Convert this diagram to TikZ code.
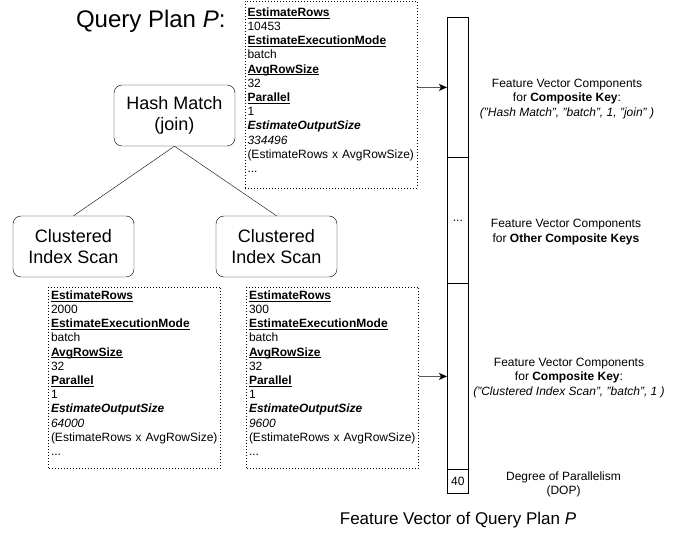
\documentclass[tikz,border=0pt]{standalone}
\usepackage{fontspec}
\setmainfont{Liberation Sans}
\usetikzlibrary{arrows.meta}
\newcommand{\fieldname}[1]{\underline{\smash{\textbf{#1}}}}

\begin{document}
\begin{tikzpicture}[x=1pt,y=-1pt,
	opnode/.style={draw,rounded corners=8pt,minimum width=121pt,minimum height=61pt,align=center,font=\fontsize{18}{21.6}\selectfont},
	infobox/.style={draw,dash pattern=on 1pt off 2pt,line width=0.8pt,text width=167pt,inner xsep=2.5pt,minimum height=#1,align=left,font=\fontsize{12}{14.2}\selectfont},
	cell/.style={draw,line width=0.8pt,minimum width=21pt,inner sep=0pt,anchor=north west,font=\fontsize{12}{14}\selectfont},
	note/.style={align=center,font=\fontsize{12}{14.2}\selectfont},
	feed/.style={draw=black!65,line width=1.2pt,-{Stealth[color=black,length=8pt,width=7pt,inset=2pt]}}]
	\useasboundingbox (0,0) rectangle (683,534);

	\node[anchor=east,font=\fontsize{24}{28}\selectfont] (title) at (229,21) {Query Plan \textit{P}:};

	% operator tree
	\node[opnode] (hash) at (174.5,115.5) {Hash Match\\(join)};
	\node[opnode] (scanl) at (73.5,246.5) {Clustered\\Index Scan};
	\node[opnode] (scanr) at (276.5,246.5) {Clustered\\Index Scan};
	\draw (hash.south) -- (scanl.north);
	\draw (hash.south) -- (scanr.north);

	% operator properties
	\node[infobox=187pt] (hashinfo) at (331,94.5) {\fieldname{EstimateRows}\\10453\\\fieldname{EstimateExecutionMode}\\batch\\\fieldname{AvgRowSize}\\32\\\fieldname{Parallel}\\1\\\textbf{\textit{EstimateOutputSize}}\\\textit{334496}\\(EstimateRows x AvgRowSize)\\...};
	\node[infobox=181pt] (scanlinfo) at (134.5,377.5) {\fieldname{EstimateRows}\\2000\\\fieldname{EstimateExecutionMode}\\batch\\\fieldname{AvgRowSize}\\32\\\fieldname{Parallel}\\1\\\textbf{\textit{EstimateOutputSize}}\\\textit{64000}\\(EstimateRows x AvgRowSize)\\...};
	\node[infobox=181pt] (scanrinfo) at (332.5,377.5) {\fieldname{EstimateRows}\\300\\\fieldname{EstimateExecutionMode}\\batch\\\fieldname{AvgRowSize}\\32\\\fieldname{Parallel}\\1\\\textbf{\textit{EstimateOutputSize}}\\\textit{9600}\\(EstimateRows x AvgRowSize)\\...};

	% feature vector
	\node[cell,minimum height=140pt] (vhash) at (447,17) {};
	\node[cell,minimum height=126pt] (vother) at (447,157) {...};
	\node[cell,minimum height=186pt] (vscan) at (447,283) {};
	\node[cell,minimum height=24pt] (vdop) at (447,469) {40};

	\draw[feed] (hashinfo.east |- vhash.west) -- (vhash.west);
	\draw[feed] (scanrinfo.east |- vscan.west) -- (vscan.west);

	\node[note] (hashkey) at (567,99) {Feature Vector Components\\for \textbf{Composite Key}:\\\textit{("Hash Match", "batch", 1, "join" )}};
	\node[note] (otherkey) at (566,232) {Feature Vector Components\\for \textbf{Other Composite Keys}};
	\node[note] (scankey) at (569,378) {Feature Vector Components\\for \textbf{Composite Key}:\\\textit{("Clustered Index Scan", "batch", 1 )}};
	\node[note] (dop) at (563.5,484) {Degree of Parallelism\\(DOP)};

	\node[font=\fontsize{17}{20}\selectfont] (caption) at (458,520) {Feature Vector of Query Plan \textit{P}};
\end{tikzpicture}
\end{document}
